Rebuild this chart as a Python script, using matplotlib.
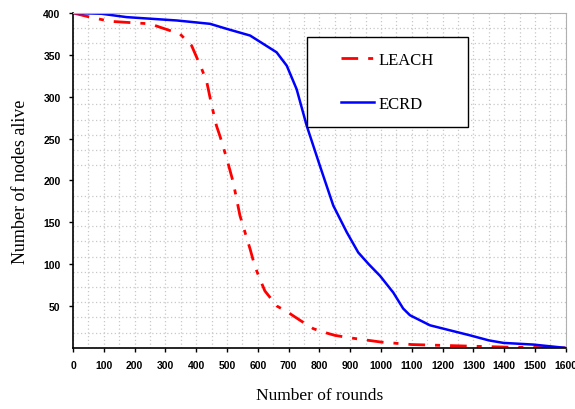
import matplotlib.pyplot as plt
from matplotlib.patches import Rectangle
from matplotlib.ticker import MultipleLocator

# rounds vs alive nodes
leach_rounds = [0, 55, 120, 250, 282, 347, 385, 418, 434, 450, 466, 477, 500, 520, 542, 575, 590, 607, 623, 662, 700, 737, 780, 812, 850, 900, 1000, 1100, 1200, 1300, 1400, 1500, 1600]
leach_alive = [400, 395, 390, 387, 383, 375, 361, 333, 318, 290, 265, 253, 225, 198, 158, 118, 98, 82, 68, 50, 42, 33, 23, 19, 15, 12, 7, 4, 3, 2, 1, 0.5, 0]

ecrd_rounds = [0, 93, 174, 337, 445, 499, 575, 661, 694, 726, 759, 802, 845, 889, 926, 960, 997, 1040, 1072, 1094, 1159, 1224, 1289, 1350, 1397, 1494, 1600]
ecrd_alive = [400, 399, 395, 391, 387, 381, 373, 353, 337, 309, 265, 217, 170, 138, 114, 100, 86, 66, 47, 39, 27, 21, 15, 9, 6, 4, 0]

x_ticks = list(range(0, 1601, 100))
y_ticks = list(range(50, 401, 50))

serif = ['Liberation Serif', 'DejaVu Serif']
sans = ['Liberation Sans', 'DejaVu Sans']

fig = plt.figure(figsize=(5.75, 4.1), dpi=100)
ax = fig.add_axes([0.127, 0.149, 0.857, 0.817])

ax.plot(leach_rounds, leach_alive, color='#ff0000', lw=2.0,
        linestyle=(0, (6.0, 3.6, 1.8, 3.6)), label='LEACH')
ax.plot(ecrd_rounds, ecrd_alive, color='#0000ff', lw=1.8, label='ECRD')

ax.set_xlim(0, 1600)
ax.set_ylim(0, 400)
ax.set_xticks(x_ticks)
ax.set_yticks(y_ticks)
ax.xaxis.set_minor_locator(MultipleLocator(50))
ax.yaxis.set_minor_locator(MultipleLocator(400 / 22))
ax.grid(which='minor', color='#c8c8c8', linestyle=(0, (1, 2)), lw=0.9)
ax.grid(which='major', axis='x', color='#c8c8c8', linestyle=(0, (1, 2)), lw=0.9)
ax.tick_params(which='minor', length=0)
ax.tick_params(which='major', direction='out', length=3, width=1, pad=6)

for lab in ax.get_xticklabels() + ax.get_yticklabels():
    lab.set_family(sans)
    lab.set_fontweight('bold')
    lab.set_fontsize(7.5)

for s in ['top', 'right']:
    ax.spines[s].set_color('#b0b0b0')
for s in ['left', 'bottom']:
    ax.spines[s].set_linewidth(1.2)

ax.set_xlabel('Number of rounds', family=serif, fontsize=12.5, labelpad=12)
ax.set_ylabel('Number of nodes alive', family=serif, fontsize=13, labelpad=10)

# legend box drawn separately (wide side padding like the original)
ax.add_patch(Rectangle((0.4746, 0.660), 0.3264, 0.268, transform=ax.transAxes,
                       facecolor='white', edgecolor='black', lw=1.0, zorder=5))
leg = ax.legend(loc='center', bbox_to_anchor=(0.638, 0.794), prop={'family': serif, 'size': 12},
                frameon=False, handlelength=2.0, labelspacing=1.7, borderpad=0,
                handletextpad=0.3)
leg.set_zorder(6)

fig.savefig('out.png', dpi=100)
